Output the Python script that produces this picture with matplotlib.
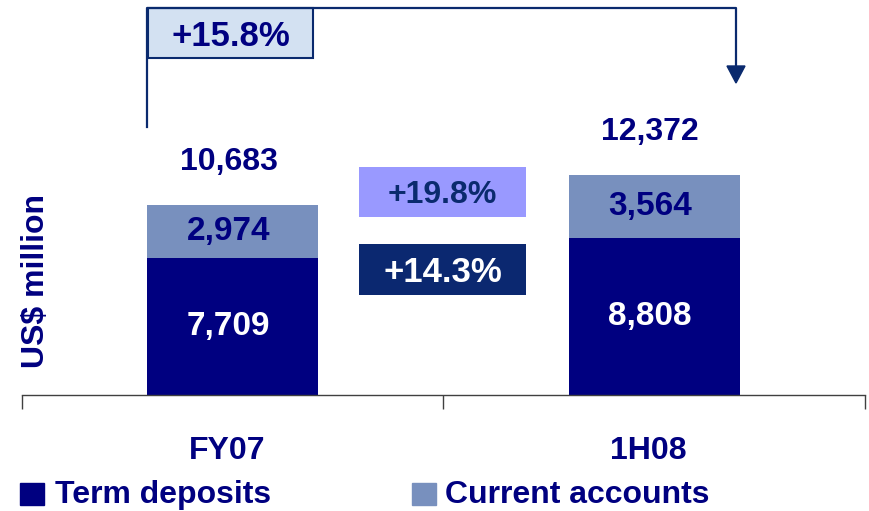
import matplotlib.pyplot as plt
from matplotlib.patches import Rectangle, Polygon
from matplotlib.lines import Line2D

plt.rcParams['font.family'] = ['Liberation Sans', 'DejaVu Sans']
plt.rcParams['font.weight'] = 'bold'

periods = ['FY07', '1H08']
term_deposits = [7709, 8808]
current_accounts = [2974, 3564]
totals = [10683, 12372]
growth_total = '+15.8%'
growth_current = '+19.8%'
growth_term = '+14.3%'

NAVY = '#000080'
LIGHT = '#7890BE'
LINE = '#0A2A6E'

W, H = 870, 511
fig = plt.figure(figsize=(W / 100, H / 100), dpi=100)


def fx(x):
    return x / W


def fy(y):
    # pixel from top -> figure fraction
    return 1 - y / H


# axes: baseline at pixel 395, x from 22 to 865
ymax = 16000
top_px = 395 - ymax * 0.01777
ax = fig.add_axes([fx(22), fy(395), fx(865 - 22), (395 - top_px) / H])
ax.set_xlim(0, 2)
ax.set_ylim(0, ymax)
for s in ['top', 'right', 'left']:
    ax.spines[s].set_visible(False)
ax.spines['bottom'].set_color('#404040')
ax.spines['bottom'].set_linewidth(1)
ax.set_yticks([])
ax.set_xticks([0, 1, 2])
ax.set_xticklabels([])
ax.tick_params(axis='x', direction='out', length=10, width=1, color='#404040')

xs = [0.5, 1.5]
bw = 0.405
ax.bar(xs, term_deposits, width=bw, color=NAVY, zorder=2)
ax.bar(xs, current_accounts, width=bw, bottom=term_deposits, color=LIGHT, zorder=2)

for x, t, c, tot in zip(xs, term_deposits, current_accounts, totals):
    ax.text(x - 0.01, t / 2, f'{t:,}', ha='center', va='center', color='white',
            fontsize=24, fontweight='bold')
    ax.text(x - 0.01, t + c / 2, f'{c:,}', ha='center', va='center', color=NAVY,
            fontsize=24, fontweight='bold')
    ax.annotate(f'{tot:,}', (x - 0.01, tot), xytext=(0, 20), textcoords='offset points',
                ha='center', va='bottom', color=NAVY, fontsize=23, fontweight='bold')

for x, p in zip(xs, periods):
    fig.text(fx(22) + (x / 2) * fx(843) - fx(6), fy(451), p, ha='center', va='center',
             color=NAVY, fontsize=23, fontweight='bold')

fig.text(fx(36), fy(281), 'US$ million', rotation=90, ha='center', va='center',
         color=NAVY, fontsize=23, fontweight='bold')

# bracket with arrow
fig.add_artist(Line2D([fx(147), fx(147), fx(736), fx(736)],
                      [fy(127), fy(8), fy(8), fy(68)], color=LINE, lw=1.6))
fig.add_artist(Polygon([(fx(727), fy(66)), (fx(745), fy(66)), (fx(736), fy(83))],
                       closed=True, color=LINE))


# growth boxes
def box(x0, y0, x1, y1, fc, ec, txt, tc, size):
    fig.add_artist(Rectangle((fx(x0), fy(y1)), fx(x1 - x0), (y1 - y0) / H,
                             facecolor=fc, edgecolor=ec, lw=1.5 if ec != 'none' else 0))
    fig.text(fx((x0 + x1) / 2), fy((y0 + y1) / 2 + 3), txt, ha='center', va='center',
             color=tc, fontsize=size, fontweight='bold')


box(148, 8, 313, 58, '#D3E1F2', LINE, growth_total, NAVY, 25)
box(359, 167, 526, 217, '#9999FF', 'none', growth_current, LINE, 23)
box(359, 244, 526, 295, '#0B2870', 'none', growth_term, 'white', 25)

# legend
fig.add_artist(Rectangle((fx(20), fy(505)), fx(24), 22 / H, color=NAVY))
fig.text(fx(55), fy(495), 'Term deposits', ha='left', va='center', color=NAVY,
         fontsize=23, fontweight='bold')
fig.add_artist(Rectangle((fx(412), fy(505)), fx(24), 22 / H, color=LIGHT))
fig.text(fx(445), fy(495), 'Current accounts', ha='left', va='center', color=NAVY,
         fontsize=23, fontweight='bold')

fig.savefig('out.png', dpi=100)
